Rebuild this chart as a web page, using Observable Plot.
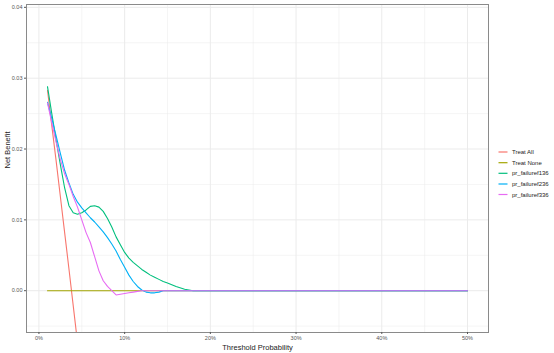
<!DOCTYPE html>
<html>
<head>
<meta charset="utf-8">
<script src="https://cdn.jsdelivr.net/npm/d3@7"></script>
<script src="https://cdn.jsdelivr.net/npm/@observablehq/plot@0.6"></script>
<style>
  html, body { margin: 0; padding: 0; background: #fff; }
  #wrap { position: relative; width: 554px; height: 353px; font-family: "Liberation Sans", Arial, sans-serif; }
  #legend { position: absolute; left: 0; top: 0; }
</style>
</head>
<body>
<div id="wrap"></div>
<script>
const thresholds = [0.01, 0.015, 0.02, 0.025, 0.03, 0.035, 0.04, 0.045, 0.05, 0.055, 0.06, 0.065, 0.07, 0.075, 0.08, 0.085, 0.09, 0.095, 0.10, 0.105, 0.11, 0.115, 0.12, 0.125, 0.13, 0.135, 0.14, 0.145, 0.15, 0.16, 0.17, 0.18, 0.50];
const seriesNames = ["Treat All", "Treat None", "pr_failuref136", "pr_failuref236", "pr_failuref336"];
const colors = ["#F8766D", "#A3A500", "#00BF7D", "#00B0F6", "#E76BF3"];
const treatAll = [0.0283, 0.0233, 0.0184, 0.0133, 0.0082, 0.0031, -0.0021, -0.0073, -0.0126, -0.0180, -0.0234, null, null, null, null, null, null, null, null, null, null, null, null, null, null, null, null, null, null, null, null, null, null];
const treatNone = [0, 0, 0, 0, 0, 0, 0, 0, 0, 0, 0, 0, 0, 0, 0, 0, 0, 0, 0, 0, 0, 0, 0, 0, 0, 0, 0, 0, 0, 0, 0, 0, 0];
const f136 = [0.0288, 0.0250, 0.0213, 0.0178, 0.0145, 0.0120, 0.0110, 0.0108, 0.0110, 0.0114, 0.0119, 0.0120, 0.0118, 0.0112, 0.0102, 0.0090, 0.0076, 0.0065, 0.0054, 0.0046, 0.0040, 0.0035, 0.0030, 0.0026, 0.0022, 0.0019, 0.0016, 0.0013, 0.0011, 0.0006, 0.0002, 0, 0];
const f236 = [0.0266, 0.0243, 0.0219, 0.0194, 0.0170, 0.0152, 0.0136, 0.0125, 0.0117, 0.0110, 0.0103, 0.0097, 0.0090, 0.0083, 0.0075, 0.0066, 0.0056, 0.0044, 0.0033, 0.0022, 0.0013, 0.0006, 0.0001, -0.0002, -0.0003, -0.0003, -0.0002, 0, 0, 0, 0, 0, 0];
const f336 = [0.0265, 0.0237, 0.0210, 0.0185, 0.0165, 0.0150, 0.0133, 0.0118, 0.0100, 0.0082, 0.0068, 0.0048, 0.0028, 0.0014, 0.0006, 0.0000, -0.0006, -0.0005, -0.0004, -0.0003, -0.0002, -0.0001, 0, 0, 0, 0, 0, 0, 0, 0, 0, 0, 0];
const xTicks = [0, 0.1, 0.2, 0.3, 0.4, 0.5];
const xMinor = [0.05, 0.15, 0.25, 0.35, 0.45];
const yTicks = [0, 0.01, 0.02, 0.03, 0.04];
const yMinor = [-0.005, 0.005, 0.015, 0.025, 0.035];

const seriesValues = [treatAll, treatNone, f136, f236, f336];
const rows = [];
seriesValues.forEach((vals, si) => {
  vals.forEach((v, i) => rows.push({series: seriesNames[si], t: thresholds[i], nb: v}));
});

const W = 554, H = 353;
const mL = 26, mR = 66, mT = 4, mB = 21;

const chart = Plot.plot({
  width: W, height: H,
  marginLeft: mL, marginRight: mR, marginTop: mT, marginBottom: mB,
  style: {fontFamily: "Liberation Sans, Arial, sans-serif", background: "#fff"},
  x: {domain: [-0.0145, 0.5245]},
  y: {domain: [-0.0059, 0.0404]},
  color: {domain: seriesNames, range: colors},
  marks: [
    Plot.gridX(xMinor, {stroke: "#EBEBEB", strokeOpacity: 1, strokeWidth: 0.5}),
    Plot.gridY(yMinor, {stroke: "#EBEBEB", strokeOpacity: 1, strokeWidth: 0.5}),
    Plot.gridX(xTicks, {stroke: "#EBEBEB", strokeOpacity: 1, strokeWidth: 1}),
    Plot.gridY(yTicks, {stroke: "#EBEBEB", strokeOpacity: 1, strokeWidth: 1}),
    Plot.line(rows, {x: "t", y: "nb", z: "series", stroke: "series", strokeWidth: 1.1, clip: true, defined: d => d.nb != null}),
    Plot.frame({stroke: "#8a8a8a", strokeWidth: 1}),
    Plot.axisX(xTicks, {tickFormat: d3.format(".0%"), tickSize: 2, tickPadding: 2, fontSize: 5.5, color: "#555", stroke: "#555", label: null}),
    Plot.axisY(yTicks, {tickFormat: d3.format(".2f"), tickSize: 2, tickPadding: 2, fontSize: 5.5, color: "#555", stroke: "#555", label: null}),
    Plot.text(["Threshold Probability"], {frameAnchor: "bottom", dy: 15, fontSize: 7.5, fill: "#222", lineAnchor: "middle"}),
    Plot.text(["Net Benefit"], {frameAnchor: "left", dx: -19, rotate: -90, fontSize: 7.5, fill: "#222", lineAnchor: "middle"})
  ]
});
document.getElementById("wrap").appendChild(chart);

// legend
const svg = d3.select("#wrap").append("svg").attr("id", "legend").attr("width", W).attr("height", H);
const legendRows = [152, 162.7, 173.3, 184, 194.5];
seriesNames.forEach((name, i) => {
  const g = svg.append("g");
  g.append("line").attr("x1", 498.5).attr("x2", 507.5).attr("y1", legendRows[i]).attr("y2", legendRows[i])
    .attr("stroke", colors[i]).attr("stroke-width", 1.2);
  g.append("text").attr("x", 512).attr("y", legendRows[i]).attr("dy", "0.35em")
    .attr("font-size", 6).attr("fill", "#222").attr("font-family", "Liberation Sans, Arial, sans-serif").text(name);
});
</script>
</body>
</html>
